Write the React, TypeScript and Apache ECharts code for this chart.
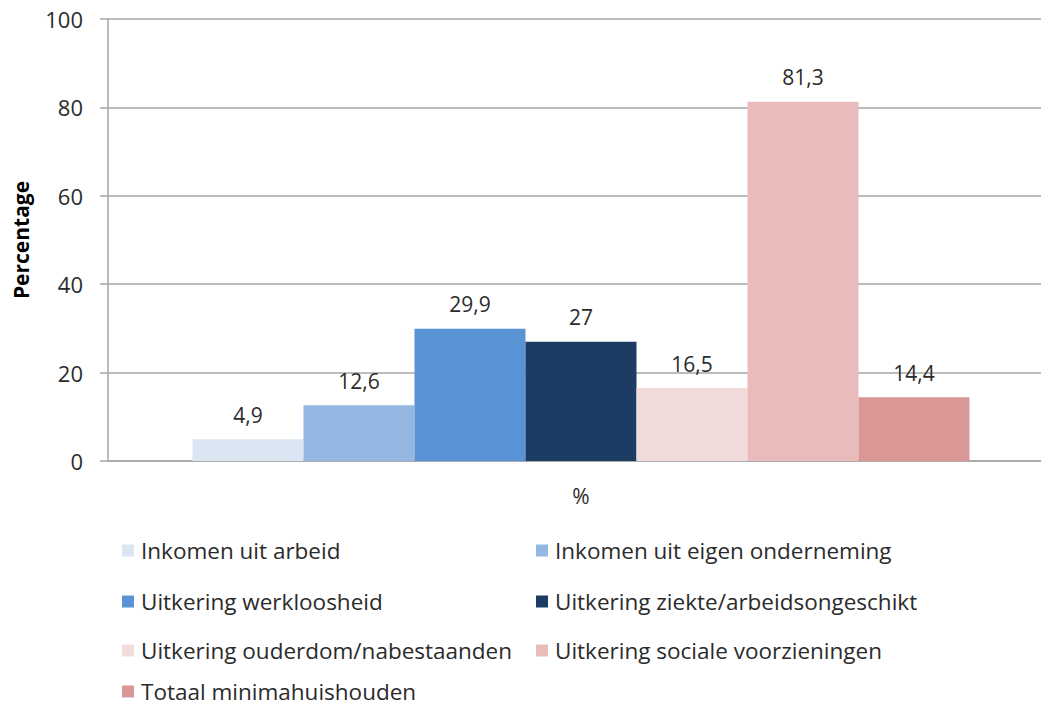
import React, { useEffect, useRef } from "react";
import * as echarts from "echarts";

const categories = ["%"];
const seriesNames = [
  "Inkomen uit arbeid",
  "Inkomen uit eigen onderneming",
  "Uitkering werkloosheid",
  "Uitkering ziekte/arbeidsongeschikt",
  "Uitkering ouderdom/nabestaanden",
  "Uitkering sociale voorzieningen",
  "Totaal minimahuishouden",
];
const seriesValues = [4.9, 12.6, 29.9, 27, 16.5, 81.3, 14.4];
const seriesColors = ["#dce6f2", "#95b8e3", "#5a93d5", "#1c3c63", "#f2dcdb", "#e9bbba", "#d99795"];
const yTicks = [0, 20, 40, 60, 80, 100];

const FONT = "'Open Sans', 'Noto Sans', sans-serif";
const TEXT = "#2b2b2b";

export default function App() {
  const ref = useRef<HTMLDivElement>(null);
  useEffect(() => {
    if (!ref.current) return;
    const chart = echarts.init(ref.current, undefined, { renderer: "svg" });
    const legendPos = [
      [122, 539], [536, 539],
      [122, 590], [536, 590],
      [122, 639], [536, 639],
      [122, 680],
    ];
    chart.setOption({
      animation: false,
      textStyle: { fontFamily: FONT },
      grid: { left: 108, right: 0, top: 19, bottom: 247 },
      xAxis: {
        type: "category",
        data: categories,
        axisLine: { show: true, lineStyle: { color: "#a6a6a6", width: 1.5 } },
        axisTick: { show: false },
        axisLabel: { color: TEXT, fontSize: 21, margin: 24, fontFamily: FONT },
      },
      yAxis: {
        type: "value",
        min: yTicks[0],
        max: yTicks[yTicks.length - 1],
        interval: 20,
        name: "Percentage",
        nameLocation: "middle",
        nameGap: 77,
        nameTextStyle: { color: "#000", fontSize: 21, fontWeight: "bold", fontFamily: FONT },
        axisLine: { show: true, lineStyle: { color: "#a6a6a6", width: 1.5 } },
        axisTick: { show: true, length: 8, lineStyle: { color: "#a6a6a6", width: 1.5 } },
        axisLabel: { color: TEXT, fontSize: 22, margin: 25, fontFamily: FONT },
        splitLine: { show: true, lineStyle: { color: "#a6a6a6", width: 1.5 } },
      },
      legend: seriesNames.map((n, i) => ({
        data: [n],
        left: legendPos[i][0],
        top: legendPos[i][1],
        icon: "rect",
        itemWidth: 12,
        itemHeight: 12,
        itemGap: 0,
        padding: 0,
        selectedMode: false,
        textStyle: { color: TEXT, fontSize: 22.5, lineHeight: 20, fontFamily: FONT, padding: [0, 0, 0, 2] },
      })),
      series: seriesNames.map((n, i) => ({
        name: n,
        type: "bar",
        data: [seriesValues[i]],
        barWidth: 111,
        barGap: "0%",
        itemStyle: { color: seriesColors[i] },
        label: {
          show: true,
          position: "top",
          distance: 14,
          color: TEXT,
          fontSize: 21,
          fontFamily: FONT,
          formatter: (p: any) => String(p.value).replace(".", ","),
        },
      })),
    });
    return () => chart.dispose();
  }, []);
  return (
    <div style={{ position: "fixed", left: 0, top: 0, width: 1041, height: 708, overflow: "hidden", background: "#fff" }}>
      <div ref={ref} style={{ width: 1054, height: 708 }} />
    </div>
  );
}
